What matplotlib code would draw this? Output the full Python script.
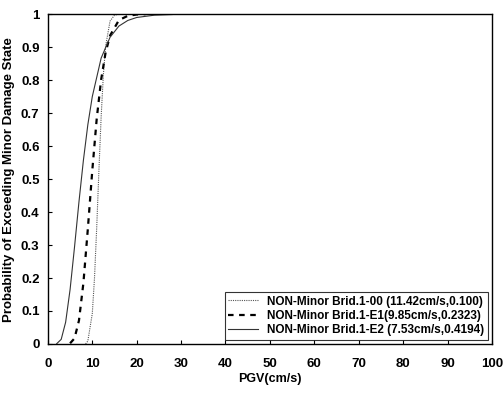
import matplotlib
matplotlib.use("Agg")
import matplotlib.pyplot as plt

plt.rcParams["font.family"] = ["Liberation Sans", "DejaVu Sans"]
plt.rcParams["font.weight"] = "bold"

# values
pgv_00 = [8.5, 9, 10, 10.5, 11, 11.5, 12, 12.5, 13, 14, 15, 16, 18, 20]
prob_00 = [0.0, 0.009, 0.092, 0.20, 0.354, 0.528, 0.69, 0.817, 0.903, 0.979, 0.997, 1.0, 1.0, 1.0]

pgv_e1 = [5, 6, 7, 8, 9, 10, 11, 12, 13, 14, 16, 18, 20, 22]
prob_e1 = [0.002, 0.017, 0.071, 0.185, 0.349, 0.526, 0.683, 0.802, 0.884, 0.935, 0.982, 0.995, 0.999, 1.0]

pgv_e2 = [2, 3, 4, 5, 6, 7, 8, 9, 10, 12, 14, 16, 18, 20, 24, 28]
prob_e2 = [0.001, 0.014, 0.066, 0.165, 0.294, 0.431, 0.557, 0.665, 0.75, 0.867, 0.93, 0.964, 0.981, 0.99, 0.997, 0.999]

labels = [
    "NON-Minor Brid.1-00 (11.42cm/s,0.100)",
    "NON-Minor Brid.1-E1(9.85cm/s,0.2323)",
    "NON-Minor Brid.1-E2 (7.53cm/s,0.4194)",
]

fig = plt.figure(figsize=(5.04, 3.94), dpi=100)
ax = fig.add_axes([0.095, 0.127, 0.881, 0.837])

ax.plot(pgv_00, prob_00, color="#555555", lw=0.8, linestyle=(0, (1, 1)), label=labels[0])
ax.plot(pgv_e1, prob_e1, color="black", lw=1.6, linestyle=(0, (2.5, 2.5)), label=labels[1])
ax.plot(pgv_e2, prob_e2, color="#333333", lw=0.8, linestyle="-", label=labels[2])

ax.set_xlim(0, 100)
ax.set_ylim(0, 1)
ax.set_xticks(range(0, 101, 10))
ax.set_yticks([i / 10 for i in range(11)])
ax.set_yticklabels(["0", "0.1", "0.2", "0.3", "0.4", "0.5", "0.6", "0.7", "0.8", "0.9", "1"])
ax.tick_params(direction="in", length=3, labelsize=9.5, width=0.8)
ax.tick_params(axis="x", pad=10)
ax.tick_params(axis="y", pad=6)
for lab in ax.get_xticklabels() + ax.get_yticklabels():
    lab.set_fontweight("bold")
for s in ax.spines.values():
    s.set_linewidth(1.0)

ax.set_xlabel("PGV(cm/s)", fontsize=9, fontweight="bold", labelpad=2)
ax.set_ylabel("Probability of Exceeding Minor Damage State", fontsize=9.5,
              fontweight="bold", labelpad=4)

leg = ax.legend(loc="lower right", fontsize=8.5, frameon=True, fancybox=False,
                edgecolor="black", handlelength=2.5, borderpad=0.3,
                labelspacing=0.2, borderaxespad=0.35)
leg.get_frame().set_linewidth(0.8)
for t in leg.get_texts():
    t.set_fontweight("bold")

fig.savefig("out.png", dpi=100)
